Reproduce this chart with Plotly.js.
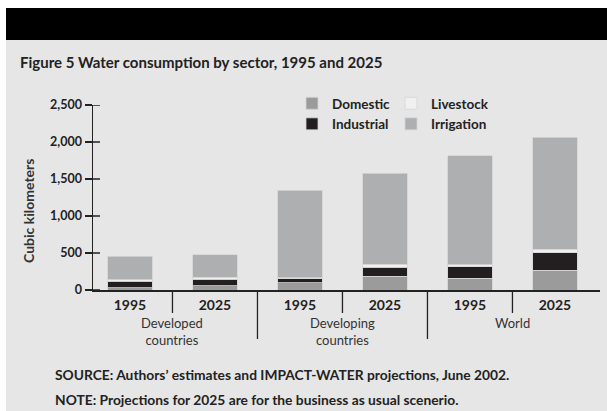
<!DOCTYPE html>
<html><head><meta charset="utf-8">
<script src="https://cdn.plot.ly/plotly-3.0.1.min.js"></script>
<style>html,body{margin:0;padding:0;background:#fff;}#chart{width:607px;height:411px;}</style>
</head><body><div id="chart"></div>
<script>
// ---- data ----
var years = ['1995', '2025', '1995', '2025', '1995', '2025'];
var groups = ['Developed<br>countries', 'Developing<br>countries', 'World'];
var domestic   = [30, 57, 95, 189, 158, 270];
var industrial = [89, 85, 54, 116, 157, 236];
var livestock  = [19, 27, 14, 46, 23, 45];
var irrigation = [319, 307, 1188, 1230, 1473, 1513];
var yTicks = [0, 500, 1000, 1500, 2000, 2500];
var yTickText = ['0', '500', '1,000', '1,500', '2,000', '2,500'];

// ---- geometry helpers (pixel -> paper) ----
var W = 607, H = 411, L = 93, R = 7, T = 105, B = 121;
function px(x) { return (x - L) / (W - L - R); }
function py(y) { return (H - B - y) / (H - T - B); }

var FONT = 'Lato, "DejaVu Sans", sans-serif';
var idx = years.map(function (_, i) { return i; });

function bar(name, vals, color, legend) {
  return { type: 'bar', name: '<b>' + name + '</b>', x: idx, y: vals, width: 0.52,
    marker: { color: color, line: { width: 0.8, color: '#d4d4d4' } }, legend: legend,
    hoverinfo: 'skip' };
}
var traces = [
  bar('Domestic', domestic, '#9b9b9c', 'legend'),
  bar('Industrial', industrial, '#231f20', 'legend'),
  bar('Livestock', livestock, '#f0f0f0', 'legend2'),
  bar('Irrigation', irrigation, '#aeafb1', 'legend2')
];

var shapes = [
  { type: 'rect', xref: 'paper', yref: 'paper', x0: px(6), x1: px(W), y0: py(40), y1: py(H),
    fillcolor: '#e6e6e6', line: { width: 0 }, layer: 'below' },
  { type: 'rect', xref: 'paper', yref: 'paper', x0: px(6), x1: px(W), y0: py(8), y1: py(40),
    fillcolor: '#000', line: { width: 0 }, layer: 'below' }
];
// inside half of the y tick marks
yTicks.forEach(function (v) {
  shapes.push({ type: 'line', xref: 'paper', yref: 'y', x0: 0, x1: px(100), y0: v, y1: v,
    line: { color: '#222', width: 1.5 } });
});
// category separators
[0.5, 2.5, 4.5].forEach(function (x) {
  shapes.push({ type: 'line', xref: 'x', yref: 'paper', x0: x, x1: x, y0: 0, y1: py(313),
    line: { color: '#222', width: 1.3 } });
});
[1.5, 3.5].forEach(function (x) {
  shapes.push({ type: 'line', xref: 'x', yref: 'paper', x0: x, x1: x, y0: 0, y1: py(339),
    line: { color: '#222', width: 1.3 } });
});

var annotations = [
  { text: '<b>Figure 5 Water consumption by sector, 1995 and 2025</b>', xref: 'paper', yref: 'paper',
    x: px(18), y: py(62), xanchor: 'left', yanchor: 'middle', showarrow: false,
    font: { family: FONT, size: 15, color: '#222' } },
  { text: '<b>Cubic kilometers</b>', xref: 'paper', yref: 'paper', textangle: -90,
    x: px(28), y: py(211), xanchor: 'center', yanchor: 'middle', showarrow: false,
    font: { family: FONT, size: 14, color: '#333' } },
  { text: '<b>SOURCE: Authors\u2019 estimates and IMPACT-WATER projections, June 2002.</b>', xref: 'paper', yref: 'paper',
    x: px(53), y: py(374), xanchor: 'left', yanchor: 'middle', showarrow: false,
    font: { family: FONT, size: 13.8, color: '#222' } },
  { text: '<b>NOTE: Projections for 2025 are for the business as usual scenerio.</b>', xref: 'paper', yref: 'paper',
    x: px(53), y: py(399), xanchor: 'left', yanchor: 'middle', showarrow: false,
    font: { family: FONT, size: 13.8, color: '#222' } }
];
groups.forEach(function (g, i) {
  annotations.push({ text: g, xref: 'x', yref: 'paper', x: 2 * i + 0.5, y: py(313),
    xanchor: 'center', yanchor: 'top', showarrow: false,
    font: { family: FONT, size: 13, color: '#333' } });
});

var layout = {
  width: W, height: H,
  margin: { l: L, r: R, t: T, b: B, pad: 0 },
  paper_bgcolor: '#ffffff', plot_bgcolor: 'rgba(0,0,0,0)',
  barmode: 'stack', bargap: 0,
  font: { family: FONT, color: '#222' },
  xaxis: { range: [-0.435, 5.53], tickvals: idx, ticktext: years.map(function (y) { return '<b>' + y + '</b>'; }),
    ticks: '', showgrid: false, zeroline: false, showline: true, linecolor: '#222', linewidth: 1.5,
    ticklabelstandoff: 2,
    tickfont: { family: FONT, size: 14, color: '#222' }, fixedrange: true },
  yaxis: { range: [0, 2500], tickvals: yTicks, ticktext: yTickText.map(function (t) { return '<b>' + t + '</b>'; }),
    ticks: 'outside', ticklen: 7, tickwidth: 1.5, tickcolor: '#222',
    showgrid: false, zeroline: false, showline: true, linecolor: '#222', linewidth: 1.5,
    tickfont: { family: FONT, size: 12.5, color: '#222' }, fixedrange: true },
  legend: { x: px(292), y: py(88), xanchor: 'left', yanchor: 'top', bgcolor: 'rgba(0,0,0,0)',
    font: { family: FONT, size: 13.5, color: '#222' }, traceorder: 'normal', itemclick: false },
  legend2: { x: px(391), y: py(88), xanchor: 'left', yanchor: 'top', bgcolor: 'rgba(0,0,0,0)',
    font: { family: FONT, size: 13.5, color: '#222' }, traceorder: 'normal', itemclick: false },
  showlegend: true,
  shapes: shapes,
  annotations: annotations
};

Plotly.newPlot('chart', traces, layout, { staticPlot: true, displayModeBar: false });
</script>
</body></html>
